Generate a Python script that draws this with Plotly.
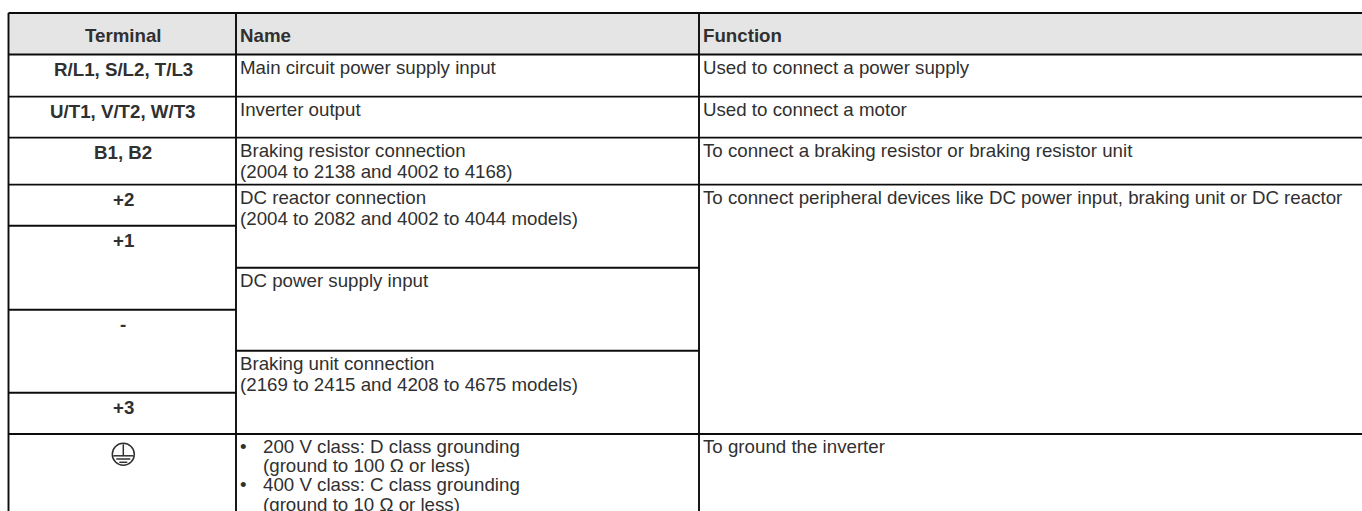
import plotly.graph_objects as go

FONT = "Liberation Sans"
INK = "#303030"
RULE = "#0c0c0c"
FS = 18.72

headers = ["Terminal", "Name", "Function"]
terminals = ["R/L1, S/L2, T/L3", "U/T1, V/T2, W/T3", "B1, B2", "+2", "+1", "-", "+3"]
names = [
    "Main circuit power supply input",
    "Inverter output",
    "Braking resistor connection<br>(2004 to 2138 and 4002 to 4168)",
    "DC reactor connection<br>(2004 to 2082 and 4002 to 4044 models)",
    "DC power supply input",
    "Braking unit connection<br>(2169 to 2415 and 4208 to 4675 models)",
]
functions = [
    "Used to connect a power supply",
    "Used to connect a motor",
    "To connect a braking resistor or braking resistor unit",
    "To connect peripheral devices like DC power input, braking unit or DC reactor",
]
ground_name = [
    ("•", "200 V class: D class grounding"),
    ("", "(ground to 100 Ω or less)"),
    ("•", "400 V class: C class grounding"),
    ("", "(ground to 10 Ω or less)"),
]
ground_function = "To ground the inverter"

col_x = [8.5, 236, 699, 1362]
term_y = [13, 54.5, 96.6, 137.6, 184.6, 225.7, 309.7, 392.7, 434]
name_y = [54.5, 96.6, 137.6, 184.6, 267.7, 350.7, 434]
func_y = [54.5, 96.6, 137.6, 184.6, 434]
bottom = 511

fig = go.Figure()
shapes, ann = [], []


def rule(x0, y0, x1, y1):
    shapes.append(dict(type="line", x0=x0, y0=y0, x1=x1, y1=y1, line=dict(color=RULE, width=1.9), layer="above"))


def text(x, y, s, anchor="left", bold=False):
    ann.append(dict(x=x, y=y, text=f"<b>{s}</b>" if bold else s, xanchor=anchor, yanchor="middle",
                    showarrow=False, align=anchor, font=dict(family=FONT, size=FS, color=INK),
                    borderpad=0, borderwidth=0))


shapes.append(dict(type="rect", x0=col_x[0], x1=col_x[-1], y0=term_y[0], y1=term_y[1],
                   fillcolor="#e5e5e5", line=dict(width=0), layer="below"))
for x in col_x[:3]:
    rule(x, term_y[0], x, bottom)
rule(col_x[0], term_y[0], col_x[-1], term_y[0])
for y in func_y[:4]:
    rule(col_x[0], y, col_x[-1], y)
for y in term_y[5:]:
    rule(col_x[0], y, col_x[1], y)
for y in name_y[4:]:
    rule(col_x[1], y, col_x[2], y)
rule(col_x[1], func_y[-1], col_x[-1], func_y[-1])

term_cx = (col_x[0] + col_x[1]) / 2 + 0.8

# header row
text(term_cx, 35, headers[0], "center", True)
text(col_x[1] + 4, 35, headers[1], "left", True)
text(col_x[2] + 4, 35, headers[2], "left", True)

# terminals
for s, top in zip(terminals, term_y[1:]):
    text(term_cx, top + 15, s, "center", True)

# names
for s, top in zip(names, name_y):
    for i, ln in enumerate(s.split("<br>")):
        text(col_x[1] + 4, top + 12.5 + i * 21, ln)

# functions
for s, top in zip(functions, func_y):
    text(col_x[2] + 4, top + 12.5, s)

# ground row
for i, (b, s) in enumerate(ground_name):
    y = func_y[-1] + 12.5 + i * 19.2
    if b:
        text(col_x[1] + 4, y, b)
    text(col_x[1] + 27, y, s)
text(col_x[2] + 4, func_y[-1] + 12.5, ground_function)

# protective-earth glyph
cx, cy, r = 123.3, 454.3, 11
shapes.append(dict(type="circle", x0=cx - r, x1=cx + r, y0=cy - r, y1=cy + r, line=dict(color=INK, width=1.5)))
rule_sym = [(0, -10, 0, 1.5), (-10, 1.5, 10, 1.5), (-7, 4.7, 7, 4.7), (-4, 8, 4, 8)]
for a, b, c, d in rule_sym:
    shapes.append(dict(type="line", x0=cx + a, y0=cy + b, x1=cx + c, y1=cy + d, line=dict(color=INK, width=1.5)))

fig.update_layout(
    width=1362, height=511, margin=dict(l=0, r=0, t=0, b=0),
    paper_bgcolor="white", plot_bgcolor="white", showlegend=False,
    xaxis=dict(range=[0, 1362], visible=False, fixedrange=True),
    yaxis=dict(range=[511, 0], visible=False, fixedrange=True),
    shapes=shapes, annotations=ann,
)
fig.write_html("out.html", config=dict(displayModeBar=False),
               post_script="document.body.style.margin='0';document.body.style.overflow='hidden';")
